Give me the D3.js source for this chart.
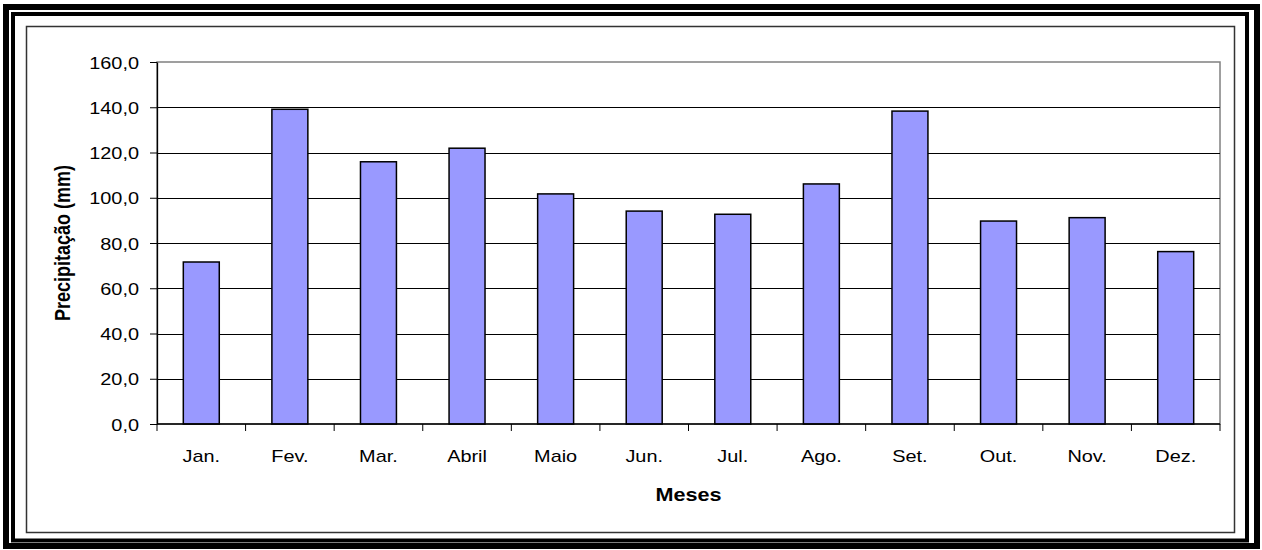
<!DOCTYPE html>
<html>
<head>
<meta charset="utf-8">
<script src="https://cdn.jsdelivr.net/npm/d3@7"></script>
<style>
  html, body { margin: 0; padding: 0; background: #fff; }
  svg { display: block; }
  text { font-family: "Liberation Sans", Arial, sans-serif; fill: #000; }
</style>
</head>
<body>
<svg id="chart" width="1262" height="550"></svg>
<script>
// Monthly precipitation (mm)
const months = ["Jan.", "Fev.", "Mar.", "Abril", "Maio", "Jun.", "Jul.", "Ago.", "Set.", "Out.", "Nov.", "Dez."];
const precipitation = [71.6, 139.1, 115.9, 121.9, 101.7, 94.1, 92.7, 106.1, 138.3, 89.7, 91.2, 76.2];
const yTicks = [0, 20, 40, 60, 80, 100, 120, 140, 160];
const yTitle = "Precipitação (mm)";
const xTitle = "Meses";

const W = 1262, H = 550;
const plot = { left: 157, right: 1220, top: 62, bottom: 424 };
const stretch = 1.17;      // horizontal stretch of tick labels
const titleStretch = 1.2;  // horizontal stretch of axis titles

const svg = d3.select("#chart");
svg.append("rect").attr("width", W).attr("height", H).attr("fill", "#fff");

// Frame: thick outer, thin middle, hairline inner
svg.append("rect").attr("x", 6).attr("y", 7).attr("width", 1251).attr("height", 539)
  .attr("fill", "none").attr("stroke", "#000").attr("stroke-width", 6);
svg.append("rect").attr("x", 13).attr("y", 14).attr("width", 1234).attr("height", 526.5)
  .attr("fill", "none").attr("stroke", "#000").attr("stroke-width", 4);
svg.append("rect").attr("x", 26.5).attr("y", 26.5).attr("width", 1208).attr("height", 506)
  .attr("fill", "none").attr("stroke", "#333").attr("stroke-width", 1.5);

const x = d3.scaleBand()
  .domain(months)
  .range([plot.left, plot.right])
  .paddingInner(0.594)
  .paddingOuter(0.297);

const y = d3.scaleLinear()
  .domain([0, 160])
  .range([plot.bottom, plot.top]);

const fmt = d => d.toFixed(1).replace(".", ",");

// Plot area border
svg.append("rect")
  .attr("x", plot.left).attr("y", plot.top)
  .attr("width", plot.right - plot.left).attr("height", plot.bottom - plot.top)
  .attr("fill", "#fff").attr("stroke", "#808080").attr("stroke-width", 1.5);

// Gridlines
svg.append("g").selectAll("line")
  .data(yTicks.filter(d => d > 0 && d < 160))
  .join("line")
  .attr("x1", plot.left).attr("x2", plot.right)
  .attr("y1", d => Math.round(y(d)) + 0.5).attr("y2", d => Math.round(y(d)) + 0.5)
  .attr("stroke", "#000").attr("stroke-width", 1);

// Bars
svg.append("g").selectAll("rect")
  .data(months.map((m, i) => ({ m, v: precipitation[i] })))
  .join("rect")
  .attr("x", d => x(d.m))
  .attr("y", d => y(d.v))
  .attr("width", x.bandwidth())
  .attr("height", d => y(0) - y(d.v))
  .attr("fill", "#9999FF")
  .attr("stroke", "#000")
  .attr("stroke-width", 1.5);

// Y axis
const yAxis = svg.append("g")
  .attr("transform", `translate(${plot.left},0)`)
  .call(d3.axisLeft(y).tickValues(yTicks).tickFormat(fmt).tickSize(7).tickSizeOuter(0));
yAxis.select(".domain").attr("stroke", "#000").attr("stroke-width", 1.3);
yAxis.selectAll(".tick line").attr("stroke", "#000");
yAxis.selectAll(".tick text")
  .attr("x", 0)
  .attr("dy", "0.36em")
  .attr("transform", `translate(-18,0) scale(${stretch},1)`)
  .style("font-size", "17px")
  .style("font-family", "'Liberation Sans', Arial, sans-serif")
  .attr("fill", "#000");

// X axis line and category boundary ticks
const step = x.step();
const bounds = months.map(m => x(m) - step * x.paddingInner() / 2);
bounds.push(plot.right);
const xg = svg.append("g");
xg.append("line")
  .attr("x1", plot.left).attr("x2", plot.right)
  .attr("y1", plot.bottom).attr("y2", plot.bottom)
  .attr("stroke", "#000").attr("stroke-width", 1.3);
xg.selectAll("line.tk").data(bounds).join("line")
  .attr("class", "tk")
  .attr("x1", d => d).attr("x2", d => d)
  .attr("y1", plot.bottom).attr("y2", plot.bottom + 7)
  .attr("stroke", "#000").attr("stroke-width", 1);

// Category labels
xg.selectAll("text").data(months).join("text")
  .attr("text-anchor", "middle")
  .attr("transform", d => `translate(${x(d) + x.bandwidth() / 2},462) scale(${stretch},1)`)
  .style("font-size", "17px")
  .text(d => d);

// Axis titles
svg.append("text")
  .attr("text-anchor", "middle")
  .attr("transform", `translate(${(plot.left + plot.right) / 2},501) scale(${titleStretch},1)`)
  .style("font-size", "18px")
  .style("font-weight", "bold")
  .text(xTitle);

svg.append("text")
  .attr("text-anchor", "middle")
  .attr("transform", `translate(70,${(plot.top + plot.bottom) / 2}) rotate(-90) scale(1,${titleStretch})`)
  .style("font-size", "18px")
  .style("font-weight", "bold")
  .text(yTitle);
</script>
</body>
</html>
